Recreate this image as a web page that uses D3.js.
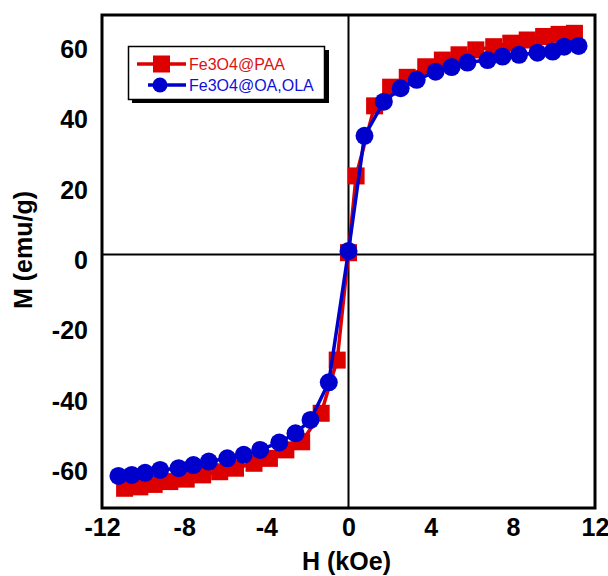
<!DOCTYPE html>
<html>
<head>
<meta charset="utf-8">
<script src="https://cdn.jsdelivr.net/npm/d3@7"></script>
<style>
  html, body { margin: 0; padding: 0; background: #fff; }
  svg { display: block; }
  text { font-family: "Liberation Sans", Arial, sans-serif; }
</style>
</head>
<body>
<svg id="chart" width="608" height="576"></svg>
<script>
// ---- data ----
const paaH = [-10.9, -10.16, -9.46, -8.7, -7.9, -7.1, -6.27, -5.5, -4.6, -3.85, -3.05, -2.28, -1.33, -0.55, 0, 0.37, 1.27, 2.05, 2.86, 3.76, 4.57, 5.38, 6.2, 7.07, 7.9, 8.7, 9.5, 10.25, 11.0];
const paaM = [-66.4, -66.0, -65.3, -64.5, -63.8, -62.6, -61.7, -60.7, -59.3, -57.9, -55.5, -53.2, -45.1, -30.0, 0.5, 22.3, 42.2, 47.5, 50.3, 53.3, 55.2, 56.7, 58.1, 59.0, 60.0, 60.9, 61.9, 62.5, 62.8];
const olaH = [-11.2, -10.55, -9.9, -9.17, -8.27, -7.55, -6.8, -5.9, -5.1, -4.3, -3.37, -2.58, -1.85, -0.96, 0, 0.78, 1.72, 2.54, 3.32, 4.24, 5.02, 5.79, 6.77, 7.5, 8.3, 9.2, 9.94, 10.5, 11.2];
const olaM = [-62.9, -62.6, -62.0, -61.2, -60.7, -59.8, -58.8, -57.9, -56.9, -55.5, -53.4, -50.8, -47.0, -36.3, 1.0, 33.7, 43.4, 47.2, 49.6, 51.9, 53.2, 54.5, 55.2, 56.2, 56.7, 57.3, 57.6, 59.0, 59.2];
const xTicks = [-12, -8, -4, 0, 4, 8, 12];
const yTicks = [-60, -40, -20, 0, 20, 40, 60];
const seriesNames = ["Fe3O4@PAA", "Fe3O4@OA,OLA"];
const seriesColors = ["#dd0000", "#0000cc"];

// ---- layout ----
const svg = d3.select("#chart");
const L = 102, R = 595, T = 15, B = 508;
const x = d3.scaleLinear().domain([-12, 12]).range([L, R]);
const y = d3.scaleLinear().domain([-72, 68]).range([B, T]);
const FONT = "Liberation Sans, Arial, sans-serif";

// zero lines
svg.append("line").attr("x1", L).attr("x2", R).attr("y1", y(0)).attr("y2", y(0))
  .attr("stroke", "#000").attr("stroke-width", 2);
svg.append("line").attr("x1", x(0)).attr("x2", x(0)).attr("y1", T).attr("y2", B)
  .attr("stroke", "#000").attr("stroke-width", 2);

// axes (labels only, no tick marks)
const xAxis = d3.axisBottom(x).tickValues(xTicks).tickSize(0).tickPadding(0).tickFormat(d => String(d));
const gx = svg.append("g").attr("transform", `translate(0,${B})`).call(xAxis);
gx.select(".domain").remove();
gx.selectAll("text").attr("font-size", 25).attr("font-weight", "bold").attr("fill", "#000")
  .attr("dy", null).attr("y", 28).attr("font-family", FONT);

const yAxis = d3.axisLeft(y).tickValues(yTicks).tickSize(0).tickPadding(0).tickFormat(d => String(d));
const gy = svg.append("g").attr("transform", `translate(88,0)`).call(yAxis);
gy.select(".domain").remove();
gy.selectAll("text").attr("font-size", 25).attr("font-weight", "bold").attr("fill", "#000")
  .attr("dy", null).attr("y", 14).attr("x", 0).attr("font-family", FONT);

// frame
svg.append("rect").attr("x", L).attr("y", T).attr("width", R - L).attr("height", B - T)
  .attr("fill", "none").attr("stroke", "#000").attr("stroke-width", 3);

// axis titles
svg.append("text").attr("x", (L + R) / 2 - 2).attr("y", 570).attr("text-anchor", "middle")
  .attr("font-size", 25).attr("font-weight", "bold").text("H (kOe)");
svg.append("text").attr("transform", `translate(32,${250}) rotate(-90)`).attr("text-anchor", "middle")
  .attr("font-size", 25).attr("font-weight", "bold").text("M (emu/g)");

// series
const paa = paaH.map((h, i) => ({ h, m: paaM[i] }));
const ola = olaH.map((h, i) => ({ h, m: olaM[i] }));
const line = d3.line().x(d => x(d.h)).y(d => y(d.m));

svg.append("path").datum(paa).attr("d", line).attr("fill", "none")
  .attr("stroke", seriesColors[0]).attr("stroke-width", 3.5);
svg.append("g").selectAll("rect").data(paa).join("rect")
  .attr("x", d => x(d.h) - 8.5).attr("y", d => y(d.m) - 8.5).attr("width", 17).attr("height", 17)
  .attr("fill", seriesColors[0]);

svg.append("path").datum(ola).attr("d", line).attr("fill", "none")
  .attr("stroke", seriesColors[1]).attr("stroke-width", 3.5);
svg.append("g").selectAll("circle").data(ola).join("circle")
  .attr("cx", d => x(d.h)).attr("cy", d => y(d.m)).attr("r", 9)
  .attr("fill", seriesColors[1]);

// legend
const lg = svg.append("g");
lg.append("rect").attr("x", 132).attr("y", 50).attr("width", 197).attr("height", 53).attr("fill", "#000");
lg.append("rect").attr("x", 128.5).attr("y", 46.5).attr("width", 196).attr("height", 53)
  .attr("fill", "#fff").attr("stroke", "#000").attr("stroke-width", 1.5);
lg.append("line").attr("x1", 137).attr("x2", 186).attr("y1", 64).attr("y2", 64)
  .attr("stroke", seriesColors[0]).attr("stroke-width", 3.5);
lg.append("rect").attr("x", 153).attr("y", 55.5).attr("width", 17).attr("height", 17).attr("fill", seriesColors[0]);
lg.append("text").attr("x", 189).attr("y", 70).attr("font-size", 16).attr("fill", "#e01010").text(seriesNames[0]);
lg.append("line").attr("x1", 148).attr("x2", 186).attr("y1", 85).attr("y2", 85)
  .attr("stroke", seriesColors[1]).attr("stroke-width", 3.5);
lg.append("circle").attr("cx", 160).attr("cy", 85).attr("r", 7.5).attr("fill", seriesColors[1]);
lg.append("text").attr("x", 189).attr("y", 91).attr("font-size", 16).attr("fill", "#1010dd").text(seriesNames[1]);
</script>
</body>
</html>
